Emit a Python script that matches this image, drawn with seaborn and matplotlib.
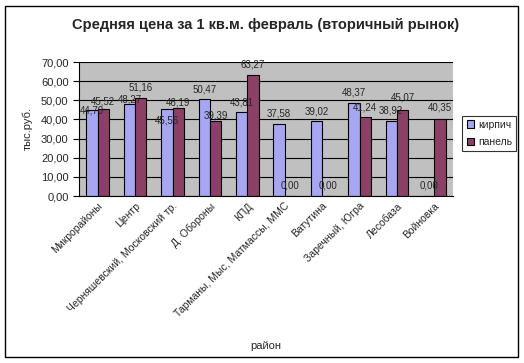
import pandas as pd
import matplotlib.pyplot as plt
import seaborn as sns
from matplotlib.patches import Rectangle

districts = ["Микрорайоны", "Центр", "Черняшевский, Московский тр.", "Д. Обороны", "КПД",
             "Тарманы, Мыс, Матмассы, ММС", "Ватутина", "Заречный, Югра", "Лесобаза", "Войновка"]
brick = [44.70, 48.27, 45.56, 50.47, 43.81, 37.58, 39.02, 48.37, 38.92, 0.00]
panel = [45.52, 51.16, 46.19, 39.39, 63.27, 0.00, 0.00, 41.24, 45.07, 40.35]
series = ["кирпич", "панель"]
colors = ["#9999FF", "#993366"]

# vertical label offsets (pixels above bar top), as positioned in the original chart
brick_label_dy = [0, 4, -12, 10, 10, 11, 10, 11, 11, 11]
panel_label_dy = [7, 11, 5, 5, 10, 11, 11, 10, 12, 11]

df = pd.DataFrame({
    "район": districts * 2,
    "цена": brick + panel,
    "тип": [series[0]] * len(districts) + [series[1]] * len(districts),
})

sns.set_style("white")
plt.rcParams["font.family"] = ["Liberation Sans", "DejaVu Sans"]

fig = plt.figure(figsize=(5.24, 3.63), dpi=100)
fig.patches.append(Rectangle((5 / 524, 6 / 363), 513 / 524, 351 / 363, transform=fig.transFigure,
                             fill=False, edgecolor="black", linewidth=1))
ax = fig.add_axes([79 / 524, 1 - 196 / 363, 374 / 524, 134 / 363])
ax.set_facecolor("#C0C0C0")

sns.barplot(data=df, x="район", y="цена", hue="тип", palette=colors, width=0.6,
            edgecolor="black", linewidth=0.8, ax=ax, legend=True)

ax.set_ylim(0, 70)
ax.set_yticks(range(0, 71, 10))
ax.set_yticklabels([f"{v:.2f}".replace(".", ",") for v in range(0, 71, 10)], fontsize=8)
ax.yaxis.grid(True, color="black", linewidth=0.8)
ax.set_axisbelow(True)
ax.set_xlim(-0.5, len(districts) - 0.5)
ax.set_xticks([i + 0.5 for i in range(-1, len(districts))], minor=True)
ax.tick_params(axis="x", which="minor", length=4, color="black", width=0.8)
ax.tick_params(axis="x", which="major", length=0)
ax.tick_params(axis="y", length=4, color="black", width=0.8, left=True)
ax.set_xticks(range(len(districts)))
ax.set_xticklabels(districts, rotation=45, ha="right", rotation_mode="anchor", fontsize=7.5)
for side in ["top", "right"]:
    ax.spines[side].set_visible(False)
for side in ["left", "bottom"]:
    ax.spines[side].set_color("black")
    ax.spines[side].set_linewidth(0.8)

for container, dys in zip(ax.containers, [brick_label_dy, panel_label_dy]):
    for bar, v, dy in zip(container, container.datavalues, dys):
        ax.annotate(f"{v:.2f}".replace(".", ","), (bar.get_x() + bar.get_width() / 2, v),
                    xytext=(0, dy), textcoords="offset pixels", ha="center", va="center",
                    fontsize=7)

ax.set_ylabel("тыс.руб.", fontsize=8, labelpad=6)
ax.set_xlabel("район", fontsize=8)
ax.xaxis.set_label_coords(0.5, -1.08)
ax.set_title("Средняя цена за 1 кв.м. февраль (вторичный рынок)", fontsize=10.5,
             fontweight="bold", pad=24)

leg = ax.legend(loc="upper left", bbox_to_anchor=(1.025, 0.6), fontsize=7.5, frameon=True,
                fancybox=False, edgecolor="black", handlelength=0.7, handleheight=0.7,
                handletextpad=0.4, borderpad=0.4, labelspacing=0.7, borderaxespad=0)
leg.get_frame().set_linewidth(0.8)

fig.savefig("out.png", dpi=100)
